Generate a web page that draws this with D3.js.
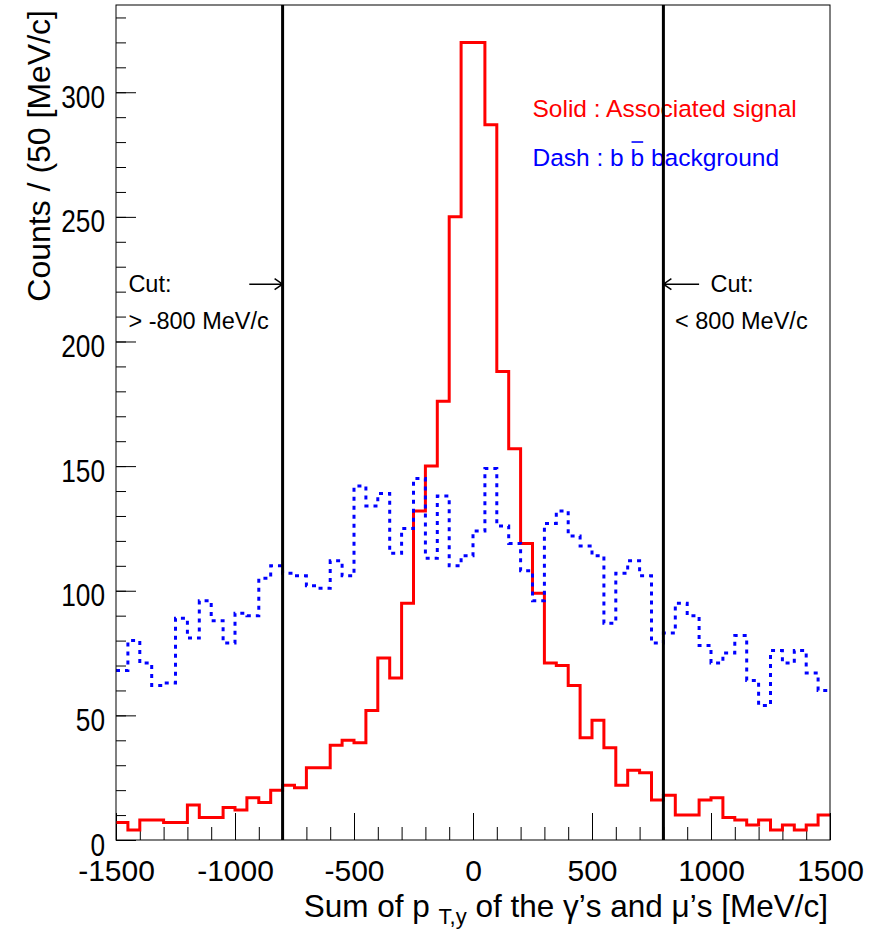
<!DOCTYPE html>
<html>
<head>
<meta charset="utf-8">
<script src="https://cdn.jsdelivr.net/npm/d3@7"></script>
<style>
  body { margin: 0; background: #fff; }
  svg { display: block; font-family: "Liberation Sans", Arial, Helvetica, sans-serif; }
</style>
</head>
<body>
<div id="app"></div>
<script>
// bin edges of the histogram, 50 MeV/c wide
const binEdges = d3.range(-1500, 1501, 50);

// solid red : associated signal
const signalCounts = [
  7, 4, 8, 8, 7, 7, 14, 9, 9, 13, 12, 17, 15, 20,
  22, 21, 29, 29, 38, 40, 39, 52, 73, 65, 95, 132, 150, 176, 250, 320,
  320, 287, 188, 157, 119, 99, 71, 70, 62, 41, 48, 37, 22, 28, 27, 16,
  18, 10, 10, 16, 17, 9, 8, 6, 8, 4, 6, 4, 6, 10
];

// dotted blue : b bbar background
const backgroundCounts = [
  68, 80, 71, 62, 63, 89, 81, 96, 88, 79, 91, 90, 105, 110,
  107, 106, 102, 101, 112, 106, 142, 134, 139, 115, 125, 145, 113, 138, 110,
  114, 124, 149, 126, 119, 108, 96, 127, 132, 122, 118, 114, 87, 107, 112, 106, 79,
  83, 95, 90, 78, 71, 75, 82, 64, 54, 76, 71, 76, 67, 60
];

const xTicks = [-1500, -1000, -500, 0, 500, 1000, 1500];
const yTicks = [0, 50, 100, 150, 200, 250, 300];
const cutValues = [-800, 800];

const render = () => {
  const width = 886;
  const height = 930;
  const frame = { left: 116, right: 830, top: 5, bottom: 840 };

  const x = d3.scaleLinear().domain([-1500, 1500]).range([frame.left, frame.right]);
  const y = d3.scaleLinear().domain([0, 335]).range([frame.bottom, frame.top]);

  const svg = d3.select('#app').append('svg')
    .attr('width', width)
    .attr('height', height);

  // 1. axes (ROOT style, ticks pointing inwards)
  const yMinor = svg.append('g')
    .attr('transform', `translate(${frame.left},0)`)
    .call(d3.axisLeft(y).tickValues(d3.range(0, 331, 10)).tickSize(-10).tickFormat(''));
  const yMajor = svg.append('g')
    .attr('transform', `translate(${frame.left},0)`)
    .call(d3.axisLeft(y).tickValues(yTicks).tickSize(-20).tickPadding(0));
  const xMinor = svg.append('g')
    .attr('transform', `translate(0,${frame.bottom})`)
    .call(d3.axisBottom(x).tickValues(d3.range(-1500, 1501, 100)).tickSize(-13).tickFormat(''));
  const xMajor = svg.append('g')
    .attr('transform', `translate(0,${frame.bottom})`)
    .call(d3.axisBottom(x).tickValues(xTicks).tickSize(-27).tickPadding(20).tickFormat(d3.format('d')));

  [yMinor, yMajor, xMinor, xMajor].forEach(g => {
    g.select('.domain').remove();
    g.selectAll('line').attr('stroke', '#000').attr('stroke-width', 1);
  });
  // tall, narrow digits like the ROOT output
  yMajor.selectAll('text')
    .attr('x', 0)
    .attr('transform', 'translate(-11,0) scale(0.82,1)')
    .attr('font-size', 32)
    .attr('dy', '0.47em')
    .attr('fill', '#000');
  xMajor.selectAll('text')
    .attr('font-size', 30)
    .attr('fill', '#000')
    .text(d => d < 0 ? '-' + Math.abs(d) : d);

  // 2. histograms
  const stepPoints = counts => counts.flatMap((c, i) => [[binEdges[i], c], [binEdges[i + 1], c]]);
  const line = d3.line().x(d => x(d[0])).y(d => y(d[1]));

  svg.append('path')
    .attr('d', line(stepPoints(signalCounts)))
    .attr('fill', 'none')
    .attr('stroke', '#ff0000')
    .attr('stroke-width', 3);

  svg.append('path')
    .attr('d', line(stepPoints(backgroundCounts)))
    .attr('fill', 'none')
    .attr('stroke', '#0000ff')
    .attr('stroke-width', 3)
    .attr('stroke-dasharray', '4,5');

  // 3. legend texts
  svg.append('text')
    .attr('x', x(250)).attr('y', y(290))
    .attr('font-size', 24.5)
    .attr('fill', '#ff0000')
    .text('Solid : Associated signal');

  const dash = svg.append('text')
    .attr('x', x(250)).attr('y', y(270.6))
    .attr('font-size', 24.5)
    .attr('fill', '#0000ff')
    .text('Dash : b b background');
  const node = dash.node();
  const barIdx = 9; // second "b"
  const bx0 = node.getStartPositionOfChar(barIdx).x;
  const bx1 = node.getEndPositionOfChar(barIdx).x;
  svg.append('line')
    .attr('x1', bx0 + 1).attr('x2', bx1 - 1)
    .attr('y1', y(270.6) - 23.5).attr('y2', y(270.6) - 23.5)
    .attr('stroke', '#0000ff')
    .attr('stroke-width', 1.6);

  // 4. cut annotations
  const cutFont = 23.5;
  const notes = [
    { x: -1448, y: 220, text: 'Cut:' },
    { x: -1448, y: 205, text: '> -800 MeV/c' },
    { x: 998, y: 220, text: 'Cut:' },
    { x: 849, y: 205, text: '< 800 MeV/c' }
  ];
  svg.selectAll('text.note')
    .data(notes)
    .enter()
      .append('text')
      .attr('class', 'note')
      .attr('x', d => x(d.x))
      .attr('y', d => y(d.y))
      .attr('font-size', cutFont)
      .attr('fill', '#000')
      .text(d => d.text);

  const arrows = [
    { from: -940, to: -800 },
    { from: 950, to: 800 }
  ];
  arrows.forEach(a => {
    const ay = y(223);
    const tip = x(a.to);
    const dir = Math.sign(a.to - a.from);
    svg.append('path')
      .attr('d', `M${x(a.from)},${ay}L${tip},${ay}M${tip - dir * 8},${ay - 5.5}L${tip},${ay}L${tip - dir * 8},${ay + 5.5}`)
      .attr('fill', 'none')
      .attr('stroke', '#000')
      .attr('stroke-width', 1.5);
  });

  // 5. cut lines
  svg.selectAll('line.cut')
    .data(cutValues)
    .enter()
      .append('line')
      .attr('class', 'cut')
      .attr('x1', d => x(d)).attr('x2', d => x(d))
      .attr('y1', y(335)).attr('y2', y(0))
      .attr('stroke', '#000')
      .attr('stroke-width', 3);

  // 6. frame
  svg.append('rect')
    .attr('x', frame.left).attr('y', frame.top)
    .attr('width', frame.right - frame.left)
    .attr('height', frame.bottom - frame.top)
    .attr('fill', 'none')
    .attr('stroke', '#000')
    .attr('stroke-width', 1);

  // 7. axis titles
  const xTitle = svg.append('text')
    .attr('x', frame.right - 2)
    .attr('y', 917)
    .attr('text-anchor', 'end')
    .attr('font-size', 31.5)
    .attr('fill', '#000');
  xTitle.append('tspan').text('Sum of p ');
  xTitle.append('tspan').attr('font-size', 22).attr('dy', 7).text('T,y');
  xTitle.append('tspan').attr('dy', -7).text(' of the \u03B3\u2019s and \u03BC\u2019s [MeV/c]');

  svg.append('text')
    .attr('transform', `translate(50,${frame.top + 5}) rotate(-90)`)
    .attr('text-anchor', 'end')
    .attr('font-size', 32)
    .attr('fill', '#000')
    .text('Counts / (50 [MeV/c]');
};

document.addEventListener('DOMContentLoaded', render);
</script>
</body>
</html>
